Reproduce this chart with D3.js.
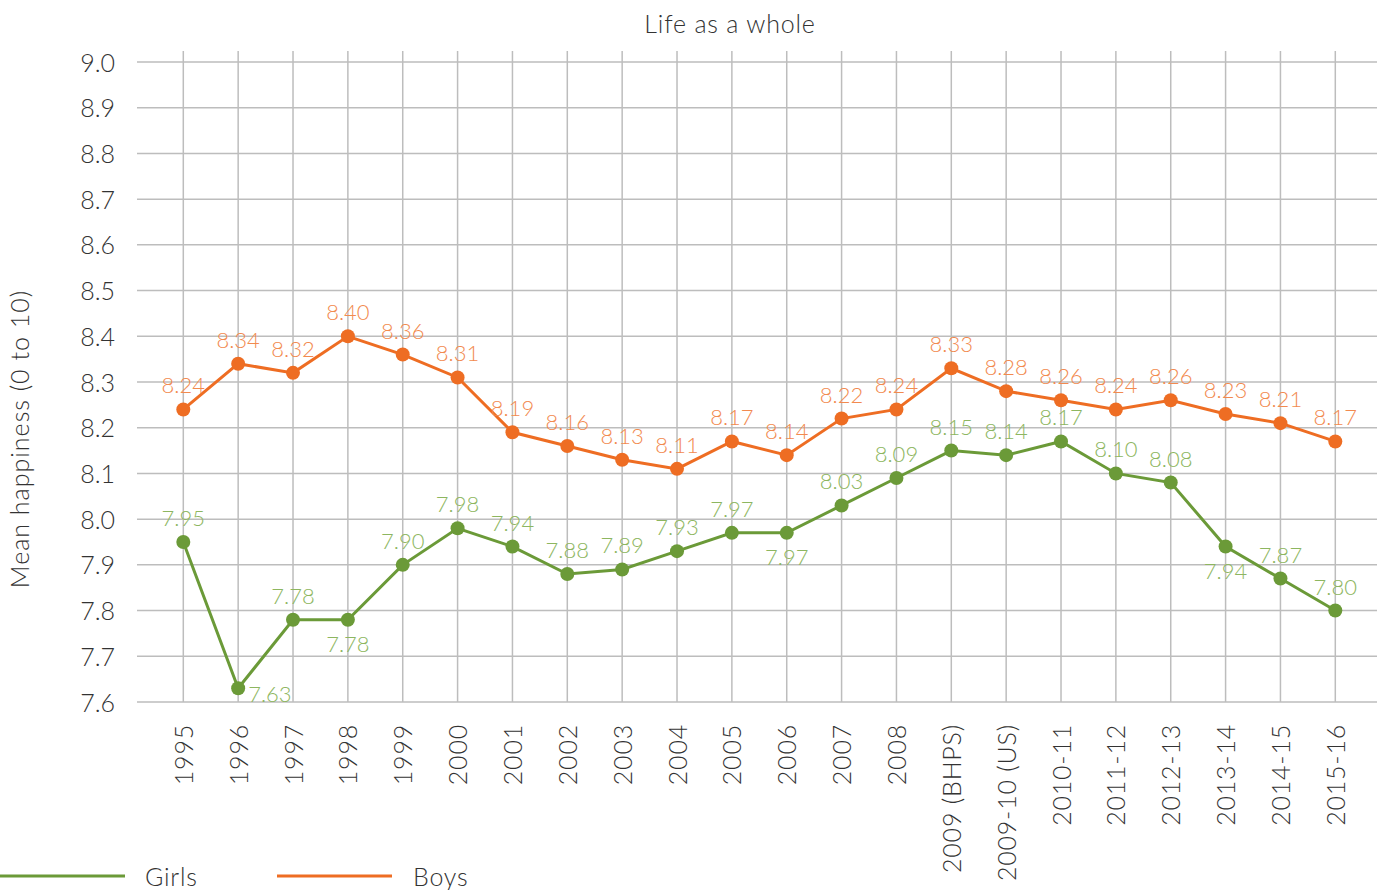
<!DOCTYPE html>
<html>
<head>
<meta charset="utf-8">
<script src="https://cdn.jsdelivr.net/npm/d3@7"></script>
<style>
    body { margin: 0; background: #fff; }
    svg text { font-family: Lato, "Open Sans", sans-serif; font-weight: 300; }
</style>
</head>
<body>
<div id="chart"></div>
<script>
// categories and values
var years = ["1995", "1996", "1997", "1998", "1999", "2000", "2001", "2002", "2003", "2004",
    "2005", "2006", "2007", "2008", "2009 (BHPS)", "2009-10 (US)", "2010-11", "2011-12",
    "2012-13", "2013-14", "2014-15", "2015-16"];
var girls = [7.95, 7.63, 7.78, 7.78, 7.90, 7.98, 7.94, 7.88, 7.89, 7.93, 7.97, 7.97,
    8.03, 8.09, 8.15, 8.14, 8.17, 8.10, 8.08, 7.94, 7.87, 7.80];
var boys = [8.24, 8.34, 8.32, 8.40, 8.36, 8.31, 8.19, 8.16, 8.13, 8.11, 8.17, 8.14,
    8.22, 8.24, 8.33, 8.28, 8.26, 8.24, 8.26, 8.23, 8.21, 8.17];
// where each girls label sits: t = above, b = below, r = right
var girlsLabelPos = ["t", "r", "t", "b", "t", "t", "t", "t", "t", "t", "t", "b",
    "t", "t", "t", "t", "t", "t", "t", "b", "t", "t"];
var yTicks = [7.6, 7.7, 7.8, 7.9, 8.0, 8.1, 8.2, 8.3, 8.4, 8.5, 8.6, 8.7, 8.8, 8.9, 9.0];

var width = 1381, height = 890;
var gridLeft = 137, gridRight = 1377, gridTop = 51;

var svg = d3.select("#chart").append("svg").attr("width", width).attr("height", height);

var x = d3.scalePoint().domain(years).range([183.3, 1335.3]);
var y = d3.scaleLinear().domain([7.6, 9.0]).range([702, 62]);

var series = [
    { name: "Girls", values: girls, line: "#6b9a38", label: "#8db660", pos: girlsLabelPos },
    { name: "Boys", values: boys, line: "#ee6d23", label: "#f28a4f", pos: null }
];

// grid
svg.append("g").selectAll("line").data(yTicks).join("line")
    .attr("x1", gridLeft).attr("x2", gridRight)
    .attr("y1", d => y(d)).attr("y2", d => y(d))
    .attr("stroke", "#bdbdbd").attr("stroke-width", 1.5);
svg.append("g").selectAll("line").data(years).join("line")
    .attr("x1", d => x(d)).attr("x2", d => x(d))
    .attr("y1", gridTop).attr("y2", y(7.6))
    .attr("stroke", "#bdbdbd").attr("stroke-width", 1.5);

// y axis
var yAxis = svg.append("g").attr("transform", "translate(" + gridLeft + ",0)")
    .call(d3.axisLeft(y).tickValues(yTicks).tickFormat(d3.format(".1f")).tickSize(0).tickPadding(22));
yAxis.select(".domain").remove();
yAxis.selectAll("text").attr("font-size", 25).attr("fill", "#333").attr("dy", "0.36em");

// x axis
var xAxis = svg.append("g").attr("transform", "translate(0," + y(7.6) + ")")
    .call(d3.axisBottom(x).tickSize(0).tickPadding(0));
xAxis.select(".domain").remove();
xAxis.selectAll("text")
    .attr("font-size", 25).attr("fill", "#333")
    .attr("letter-spacing", 0.8)
    .attr("text-anchor", "end")
    .attr("transform", "rotate(-90)")
    .attr("x", -22).attr("y", 0).attr("dy", "0.36em");

// titles
svg.append("text").attr("x", 730).attr("y", 33).attr("text-anchor", "middle")
    .attr("font-size", 25).attr("letter-spacing", 0.8).attr("fill", "#333").text("Life as a whole");
svg.append("text").attr("transform", "translate(29,439) rotate(-90)").attr("text-anchor", "middle")
    .attr("font-size", 25).attr("letter-spacing", 1).attr("fill", "#333").text("Mean happiness (0 to 10)");

// lines, points, labels
var line = d3.line().x((d, i) => x(years[i])).y(d => y(d));

series.forEach(function (s) {
    var g = svg.append("g");
    g.append("path").datum(s.values).attr("d", line)
        .attr("fill", "none").attr("stroke", s.line).attr("stroke-width", 3);
    g.selectAll("circle").data(s.values).join("circle")
        .attr("cx", (d, i) => x(years[i])).attr("cy", d => y(d)).attr("r", 7)
        .attr("fill", s.line);
    g.selectAll("text").data(s.values).join("text")
        .attr("x", function (d, i) {
            var p = s.pos ? s.pos[i] : "t";
            return p === "r" ? x(years[i]) + 10 : x(years[i]);
        })
        .attr("y", function (d, i) {
            var p = s.pos ? s.pos[i] : "t";
            if (p === "b") return y(d) + 32;
            if (p === "r") return y(d) + 14;
            return y(d) - 16;
        })
        .attr("text-anchor", (d, i) => (s.pos && s.pos[i] === "r") ? "start" : "middle")
        .attr("font-size", 22).attr("fill", s.label)
        .text(d => d3.format(".2f")(d));
});

// legend
var legend = svg.append("g");
[{ s: series[0], x0: 0, x1: 125, tx: 145 }, { s: series[1], x0: 277, x1: 392, tx: 413 }].forEach(function (l) {
    legend.append("line").attr("x1", l.x0).attr("x2", l.x1).attr("y1", 876).attr("y2", 876)
        .attr("stroke", l.s.line).attr("stroke-width", 3);
    legend.append("text").attr("x", l.tx).attr("y", 886).attr("font-size", 25).attr("letter-spacing", 0.8)
        .attr("fill", "#333").text(l.s.name);
});
</script>
</body>
</html>
